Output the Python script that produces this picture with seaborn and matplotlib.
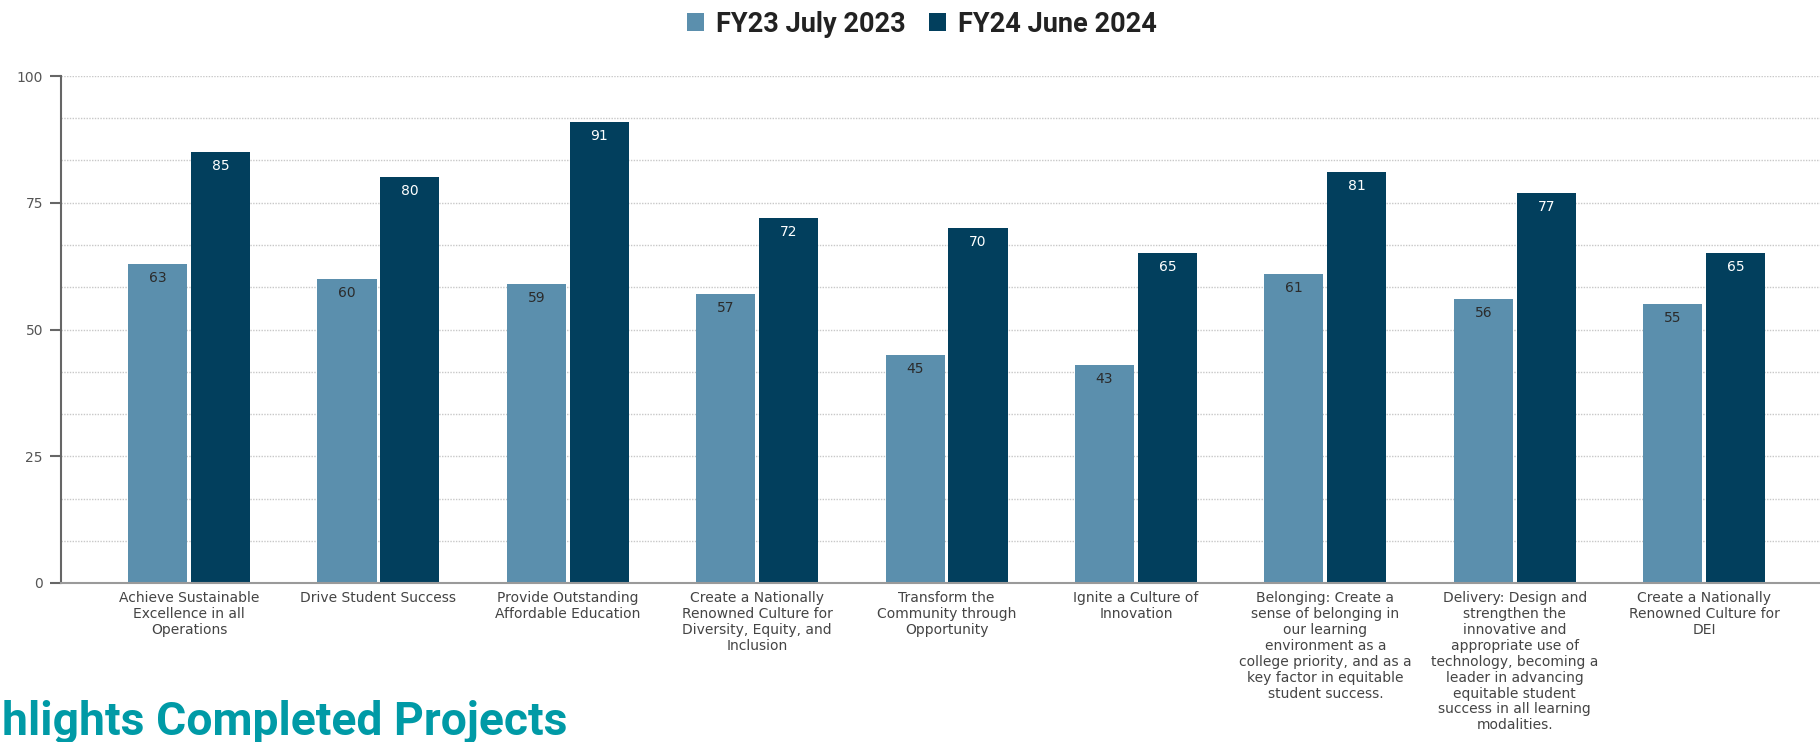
import matplotlib
matplotlib.use("Agg")
import matplotlib.pyplot as plt
import seaborn as sns
import pandas as pd
import numpy as np
from matplotlib.patches import Patch

# ---- data ----
categories = [
    "Achieve Sustainable Excellence in all Operations",
    "Drive Student Success",
    "Provide Outstanding Affordable Education",
    "Create a Nationally Renowned Culture for Diversity, Equity, and Inclusion",
    "Transform the Community through Opportunity",
    "Ignite a Culture of Innovation",
    "Belonging: Create a sense of belonging in our learning environment as a college priority, and as a key factor in equitable student success.",
    "Delivery: Design and strengthen the innovative and appropriate use of technology, becoming a leader in advancing equitable student success in all learning modalities.",
    "Create a Nationally Renowned Culture for DEI",
]
tick_labels = [
    "Achieve Sustainable\nExcellence in all\nOperations",
    "Drive Student Success",
    "Provide Outstanding\nAffordable Education",
    "Create a Nationally\nRenowned Culture for\nDiversity, Equity, and\nInclusion",
    "Transform the\nCommunity through\nOpportunity",
    "Ignite a Culture of\nInnovation",
    "Belonging: Create a\nsense of belonging in\nour learning\nenvironment as a\ncollege priority, and as a\nkey factor in equitable\nstudent success.",
    "Delivery: Design and\nstrengthen the\ninnovative and\nappropriate use of\ntechnology, becoming a\nleader in advancing\nequitable student\nsuccess in all learning\nmodalities.",
    "Create a Nationally\nRenowned Culture for\nDEI",
]
series_names = ["FY23 July 2023", "FY24 June 2024"]
fy23_values = [63, 60, 59, 57, 45, 43, 61, 56, 55]
fy24_values = [85, 80, 91, 72, 70, 65, 81, 77, 65]
y_major_ticks = [0, 25, 50, 75, 100]
title_text = "hlights Completed Projects"

# ---- style ----
colors = ["#5B8FAD", "#023F5D"]
label_colors = ["#2b2b2b", "#ffffff"]
small_font = ["DejaVu Sans"]

sns.set_theme(style="white")
plt.rcParams["font.family"] = ["Roboto", "DejaVu Sans"]

df = pd.DataFrame({
    "category": categories * 2,
    "value": fy23_values + fy24_values,
    "series": [series_names[0]] * len(categories) + [series_names[1]] * len(categories),
})

W, H = 1820, 742
fig = plt.figure(figsize=(W / 100, H / 100), dpi=100)
ax = fig.add_axes([61 / W, 1 - 583 / H, 1 - 61 / W, (583 - 76) / H])

sns.barplot(data=df, x="category", y="value", hue="series", order=categories,
            hue_order=series_names, palette=colors, saturation=1,
            width=0.664, gap=0.06, ax=ax, legend=False, linewidth=0)

# value labels inside the top of each bar
for cont, tc in zip(ax.containers, label_colors):
    for patch, v in zip(cont.patches, cont.datavalues):
        ax.annotate(f"{v:g}", (patch.get_x() + patch.get_width() / 2, patch.get_height()),
                    xytext=(0, -14), textcoords="offset pixels", ha="center", va="center",
                    fontsize=10, color=tc, family=small_font)

# axes limits
ax.set_xlim(-0.676, 8.612)
ax.set_ylim(0, 100)

# grid
ax.set_yticks(y_major_ticks)
ax.set_yticks(np.arange(0, 100.01, 100 / 12), minor=True)
ax.yaxis.grid(True, which="both", linestyle=(0, (1, 1)), color="#c8c8c8", linewidth=1)
ax.set_axisbelow(True)
ax.tick_params(axis="y", which="major", length=8, width=1.5, color="#666666",
               labelsize=10, labelcolor="#555555", pad=5, left=True)
ax.tick_params(axis="y", which="minor", length=0)
for lab in ax.get_yticklabels():
    lab.set_family(small_font)

ax.set_xticks(range(len(categories)))
ax.set_xticklabels(tick_labels, fontsize=10, color="#444444", linespacing=1.17,
                   family=small_font)
ax.tick_params(axis="x", length=0, pad=6)

for s in ["top", "right"]:
    ax.spines[s].set_visible(False)
ax.spines["left"].set_color("#666666")
ax.spines["left"].set_linewidth(1.5)
ax.spines["bottom"].set_color("#9a9a9a")
ax.spines["bottom"].set_linewidth(1.5)
ax.set_xlabel("")
ax.set_ylabel("")

# legend
handles = [Patch(facecolor=c, edgecolor="none") for c in colors]
fig.legend(handles, series_names, loc="center", bbox_to_anchor=(922 / W, 1 - 24 / H),
           ncol=2, frameon=False, prop={"family": ["Roboto", "DejaVu Sans"], "weight": "bold", "size": 19.5},
           labelcolor="#222222", handlelength=0.63, handleheight=0.63, handletextpad=0.45,
           columnspacing=0.85)

# heading at the bottom-left (cropped in the original)
fig.text(2 / W, 1 - 735 / H, title_text, ha="left", va="baseline",
         fontsize=33.3, fontweight="bold", color="#009AA6")

fig.savefig("out.png", dpi=100)
